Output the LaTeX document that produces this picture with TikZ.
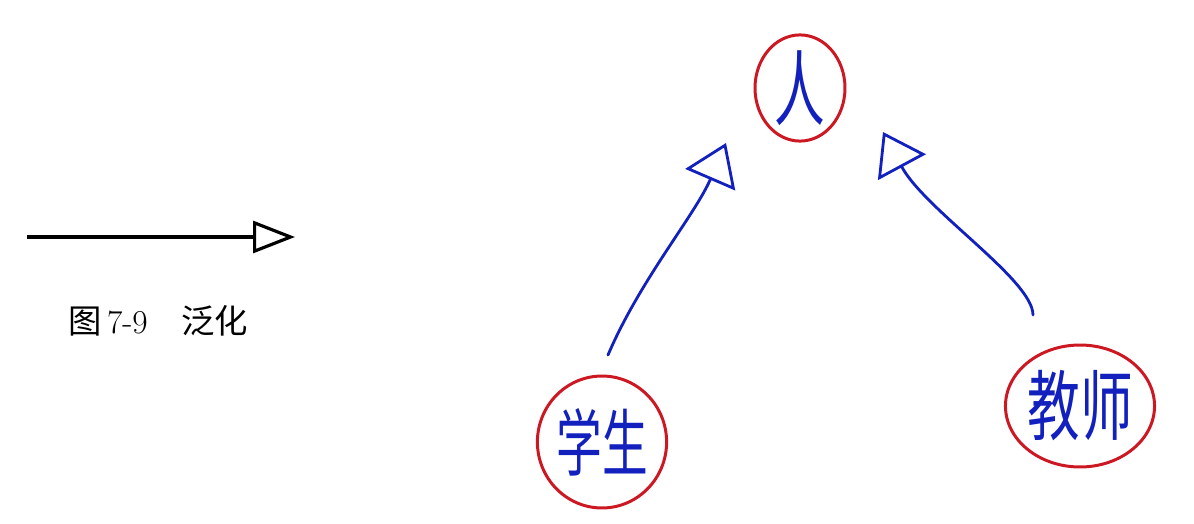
\documentclass[tikz,border=0pt]{standalone}
\usepackage{fontspec}
\usepackage{graphicx}
\newfontfamily\cjk{Noto Sans CJK SC}
\usetikzlibrary{arrows.meta,shapes.geometric}
\definecolor{penred}{RGB}{204,24,34}
\definecolor{penblue}{RGB}{18,32,190}

\tikzset{
    circled/.style={draw=penred, line width=1.7pt, ellipse, inner sep=0pt, text=penblue},
    genarrow/.style={line width=2pt, -{Triangle[open,length=0.84cm,width=0.64cm,line width=1.8pt]}},
    penarrow/.style={draw=penblue, line width=1.6pt, line cap=round,
        -{Triangle[open,length=0.8cm,width=1.08cm,line width=1.6pt]}}
}

\begin{document}
\begin{tikzpicture}[x=0.02cm, y=-0.02cm]
                \useasboundingbox (0,0) rectangle (1194,524);

                % Legend arrow and its caption
                \coordinate (lstart) at (27,237);
                \coordinate (lend) at (295,237);
                \draw[genarrow] (lstart) -- (lend);
                \node (caption) at (158,321) {\fontsize{19}{22}\selectfont{\cjk 图}\,7-9\quad{\cjk 泛化}};

                % Classes
                \node[circled, minimum width=1.8cm, minimum height=2.1cm] (person) at (800,88)
                    {\fontsize{36}{40}\selectfont\scalebox{0.8}[1.3]{\cjk 人}};
                \node[circled, minimum width=2.3cm, minimum height=2.64cm] (student) at (602,442)
                    {\fontsize{26}{30}\selectfont\scalebox{1}[1.6]{\cjk 学生}};
                \node[circled, minimum width=2.8cm, minimum height=2.44cm] (teacher) at (1080,406)
                    {\fontsize{30}{34}\selectfont\scalebox{1}[1.45]{\cjk 教师}};

                % Generalisation lines
                \coordinate (sfrom) at (608,355);
                \coordinate (sto) at (726,143);
                \coordinate (tfrom) at (1033,315);
                \coordinate (tto) at (883,132);
                \draw[penarrow] (sfrom) .. controls (640,280) and (695,215) .. (sto);
                \draw[penarrow] (tfrom) .. controls (1033,280) and (925,210) .. (tto);
            \end{tikzpicture}
\end{document}
